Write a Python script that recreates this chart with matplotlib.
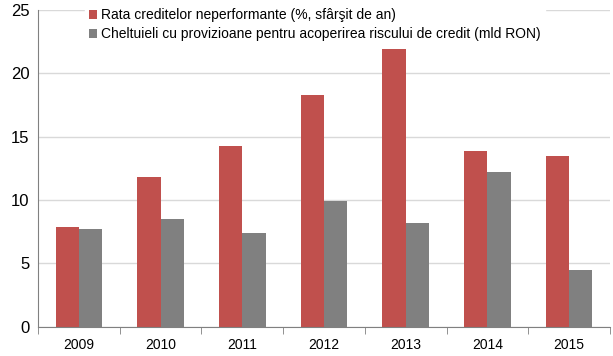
import numpy as np
import matplotlib.pyplot as plt

plt.rcParams['font.family'] = ['Liberation Sans', 'DejaVu Sans']

years = ['2009', '2010', '2011', '2012', '2013', '2014', '2015']
rata_npl = [7.9, 11.8, 14.3, 18.3, 21.9, 13.9, 13.5]
provizioane = [7.7, 8.5, 7.4, 9.9, 8.2, 12.2, 4.5]

fig, ax = plt.subplots(figsize=(6.13, 3.56), dpi=100)
fig.subplots_adjust(left=0.062, right=0.995, top=0.972, bottom=0.082)

x = np.arange(len(years))
w = 0.285
ax.bar(x - w / 2, rata_npl, w, color='#c0504d',
       label='Rata creditelor neperformante (%, sfârşit de an)', zorder=2)
ax.bar(x + w / 2, provizioane, w, color='#808080',
       label='Cheltuieli cu provizioane pentru acoperirea riscului de credit (mld RON)', zorder=2)

ax.set_xlim(-0.5, len(years) - 0.5)
ax.set_ylim(0, 25)
ax.set_yticks([0, 5, 10, 15, 20, 25])
ax.yaxis.grid(True, color='#d9d9d9', linewidth=1, zorder=0)
ax.set_axisbelow(True)

ax.set_xticks(x)
ax.set_xticklabels(years, fontsize=10)
ax.set_xticks(np.arange(-0.5, len(years)), minor=True)
ax.tick_params(axis='x', which='major', length=0, pad=8)
ax.tick_params(axis='x', which='minor', length=5, color='#808080', direction='out')
ax.tick_params(axis='y', length=0, labelsize=12, pad=6)

for s in ['top', 'right']:
    ax.spines[s].set_visible(False)
for s in ['left', 'bottom']:
    ax.spines[s].set_color('#808080')

ax.legend(loc='upper left', bbox_to_anchor=(0.07, 1.04), frameon=True, framealpha=1,
          edgecolor='white', fontsize=10, handlelength=0.55, handleheight=0.55,
          handletextpad=0.3, labelspacing=0.35, borderpad=0.3, fancybox=False)

fig.savefig('out.png', dpi=100)
